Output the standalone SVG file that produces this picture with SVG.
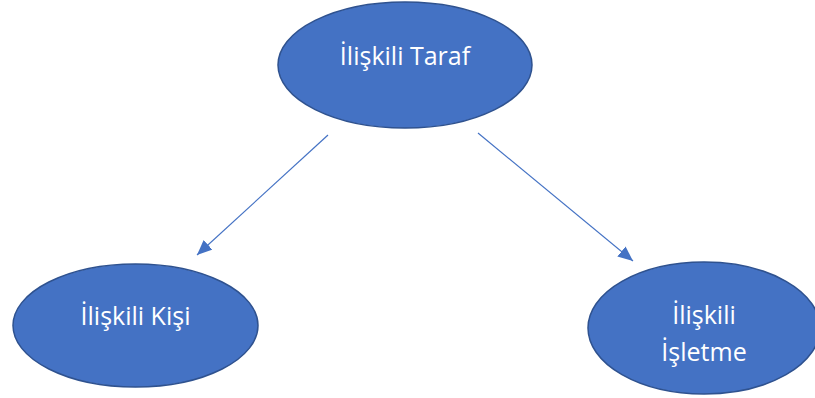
<svg xmlns="http://www.w3.org/2000/svg" width="815" height="398" viewBox="0 0 815 398">
  <style>
    .node { fill: #4472C4; stroke: #2F528F; stroke-width: 1.5; }
    .label { fill: #FFFFFF; font-family: "Open Sans", "Liberation Sans", Arial, sans-serif; font-size: 25px; text-anchor: middle; }
    .edge { stroke: #4472C4; stroke-width: 1.2; fill: none; }
  </style>
  <defs>
    <marker id="arrow" viewBox="0 0 10 10" refX="10" refY="5" markerWidth="15" markerHeight="13" markerUnits="userSpaceOnUse" orient="auto" preserveAspectRatio="none">
      <path d="M0,0 L10,5 L0,10 z" fill="#4472C4"/>
    </marker>
  </defs>
  <rect width="815" height="398" fill="#FFFFFF"/>

  <g id="connectors">
    <line class="edge" x1="328" y1="135" x2="197" y2="255" marker-end="url(#arrow)"/>
    <line class="edge" x1="478" y1="133" x2="633" y2="261" marker-end="url(#arrow)"/>
  </g>

  <g id="iliskili-taraf">
    <ellipse class="node" cx="405" cy="65" rx="127" ry="63"/>
    <text class="label" x="405" y="65">İlişkili Taraf</text>
  </g>

  <g id="iliskili-kisi">
    <ellipse class="node" cx="135.5" cy="325.5" rx="122.5" ry="61.5"/>
    <text class="label" x="135.5" y="325">İlişkili Kişi</text>
  </g>

  <g id="iliskili-isletme">
    <ellipse class="node" cx="704" cy="328" rx="116" ry="66"/>
    <text class="label" x="704" y="324">İlişkili</text>
    <text class="label" x="704" y="361">İşletme</text>
  </g>
</svg>
